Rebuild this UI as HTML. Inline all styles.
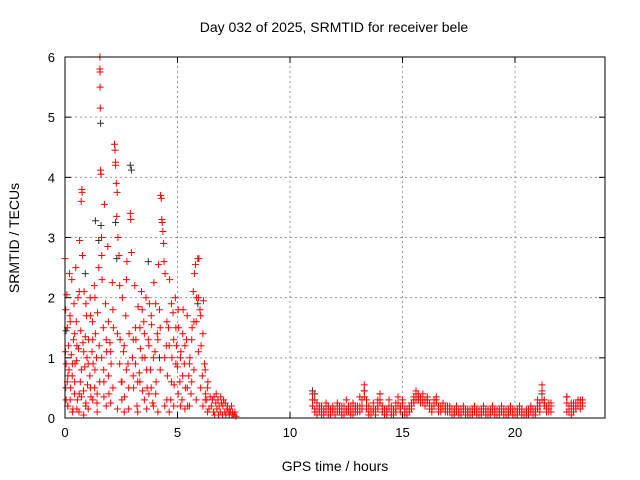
<!DOCTYPE html>
<html><head><meta charset="utf-8">
<style>
html,body{margin:0;padding:0;background:#fff;}
svg{display:block;font-family:"Liberation Sans",sans-serif;}
</style></head>
<body>
<svg id="chart" width="640" height="480" viewBox="0 0 640 480" xmlns="http://www.w3.org/2000/svg">
<rect x="0" y="0" width="640" height="480" fill="#fff"/>
<text x="334" y="32" font-size="14" text-anchor="middle" fill="#000">Day 032 of 2025, SRMTID for receiver bele</text>
<text x="335" y="471" font-size="14" text-anchor="middle" fill="#000">GPS time / hours</text>
<text x="19" y="238" font-size="14" text-anchor="middle" fill="#000" transform="rotate(-90 19 238)">SRMTID / TECUs</text>
<g id="grid"></g>
<g id="ticks"></g>
<g id="blackpts"></g>
<g id="redpts"></g>
<rect x="65" y="57" width="540" height="361" fill="none" stroke="#000" stroke-width="1"/>
</svg>
<script>
const xTicks=[0,5,10,15,20];
const yTicks=[0,1,2,3,4,5,6];
const redHoursA=[0.0,0.02,0.05,0.05,0.08,0.1,0.1,0.12,0.15,0.18,0.2,0.22,0.25,0.28,0.3,0.32,0.35,0.38,0.4,0.42,0.45,0.48,0.5,0.52,0.55,0.58,0.6,0.62,0.65,0.68,0.7,0.72,0.75,0.76,0.78,0.8,0.82,0.85,0.88,0.9,0.92,0.95,0.98,1.0];
const redValuesA=[2.65,1.1,0.9,0.3,2.05,1.5,0.6,0.2,1.2,0.8,2.4,1.7,0.5,1.05,2.3,0.7,0.15,1.3,1.9,0.4,0.9,2.5,1.6,0.95,0.3,2.0,1.15,0.1,2.95,0.6,1.45,3.6,3.8,3.75,2.7,1.25,0.45,2.1,0.85,1.35,0.2,1.7,1.0,0.55];
const redHoursB=[1.05,1.1,1.12,1.15,1.2,1.22,1.25,1.3,1.32,1.35,1.4,1.42,1.45,1.5,1.52,1.54,1.55,1.55,1.56,1.56,1.57,1.58,1.6,1.62,1.65,1.7,1.72,1.75,1.8,1.85,1.9,1.95,2.0];
const redValuesB=[1.3,0.7,2.0,0.35,1.1,1.6,0.9,2.2,0.5,1.4,1.0,0.25,1.75,2.5,1.2,0.6,6.0,5.8,5.75,5.5,5.15,4.12,4.05,3.0,2.3,1.5,0.8,3.55,1.9,1.1,2.85,0.4,1.25];
const redHoursC=[2.05,2.1,2.15,2.2,2.22,2.25,2.25,2.28,2.3,2.32,2.35,2.4,2.45,2.5,2.55,2.6,2.65,2.7,2.75,2.8,2.85,2.9,2.92,2.95,3.0,3.05,3.1,3.15,3.2,3.25,3.3,3.35,3.4,3.45,3.5];
const redValuesC=[0.9,2.25,1.5,4.55,4.45,4.25,4.2,3.9,3.35,3.75,3.0,2.7,1.3,0.6,2.0,1.1,0.35,1.7,2.6,0.9,1.4,3.4,3.3,2.75,1.0,0.5,2.2,1.3,0.2,1.85,0.75,1.15,2.1,0.45,1.6];
const redHoursD=[3.55,3.6,3.65,3.7,3.75,3.8,3.85,3.9,3.95,4.0,4.05,4.1,4.15,4.2,4.25,4.28,4.3,4.32,4.35,4.38,4.4,4.45,4.5,4.55,4.6,4.65,4.7,4.75,4.8,4.85,4.9,4.95,5.0];
const redValuesD=[1.0,2.0,0.5,1.3,1.9,0.8,1.55,0.25,2.25,1.1,0.6,1.4,2.55,1.8,3.7,3.65,3.3,3.25,3.1,2.9,2.6,2.4,1.2,0.7,1.5,2.3,0.3,1.0,1.75,0.55,2.0,1.2,0.85];
const redHoursE=[5.05,5.1,5.15,5.2,5.25,5.3,5.35,5.4,5.45,5.5,5.55,5.6,5.65,5.7,5.75,5.8,5.85,5.9,5.95,6.0,6.05,6.1,6.15,6.2,6.25,6.3,6.35,6.4,6.45,6.5];
const redValuesE=[1.5,0.6,1.1,0.3,1.8,0.9,0.5,1.3,0.2,0.7,1.0,0.4,1.5,2.1,2.4,2.55,2.0,2.65,2.65,1.8,1.2,0.7,1.95,0.9,0.4,0.3,0.6,0.15,0.35,0.2];
const redHoursF=[6.55,6.6,6.62,6.65,6.7,6.72,6.75,6.8,6.82,6.85,6.9,6.92,6.95,7.0,7.02,7.05,7.1,7.12,7.15,7.2,7.22,7.25,7.3,7.32,7.35,7.4,7.42,7.45,7.5,7.55,7.6];
const redValuesF=[0.3,0.1,0.35,0.05,0.25,0.4,0.15,0.3,0.05,0.2,0.1,0.35,0.25,0.05,0.2,0.3,0.1,0.25,0.05,0.15,0.2,0.1,0.05,0.15,0.1,0.2,0.05,0.1,0.05,0.1,0.03];
const redHoursG=[0.03,0.13,0.23,0.33,0.43,0.53,0.63,0.73,0.83,0.93,1.03,1.13,1.23,1.33,1.43,1.63,1.73,1.83,1.93,2.03,2.13,2.33,2.43,2.53,2.63,2.73,2.83,3.03,3.13,3.23,3.33,3.43,3.53,3.63,3.73,3.83,3.93,4.03,4.13,4.23,4.43,4.53,4.63,4.73,4.83,4.93,5.03,5.13,5.23,5.33,5.43,5.53,5.63,5.73,5.83,5.93,6.03,6.13,6.23,6.33];
const redValuesG=[0.5,0.7,0.3,0.9,0.6,1.2,0.4,0.8,1.1,0.25,0.9,0.5,1.3,0.8,0.4,1.0,0.6,1.3,0.7,1.1,0.5,1.4,0.9,0.3,1.2,0.8,0.5,1.3,0.9,0.6,1.5,1.0,0.3,0.8,1.2,0.5,1.0,0.4,1.3,0.8,1.0,0.3,1.2,0.6,1.3,0.9,0.4,1.0,0.7,1.2,0.5,0.9,1.3,0.8,1.6,1.1,0.5,1.4,0.3,0.5];
const redValuesH=[1.8,0.2,1.6,0.1,1.4,0.15,2.1,0.35,0.05,1.9,0.15,1.7,0.3,2.0,0.1,2.7,0.35,0.2,1.6,0.25,1.8,0.15,2.2,0.6,0.1,2.3,0.15,0.7,1.5,0.1,0.6,1.8,1.4,0.15,0.4,1.7,0.2,1.9,0.1,1.5,0.2,1.6,0.1,1.9,0.2,1.5,1.8,0.2,1.4,0.15,1.7,0.2,0.6,1.6,0.3,2.0,1.7,0.2,0.8,0.1];
const lateHours=[11.0,11.1,11.2,11.3,11.4,11.5,11.6,11.7,11.8,11.9,
12.0,12.1,12.2,12.3,12.4,12.5,12.6,12.7,12.8,12.9,
13.0,13.1,13.2,13.3,13.4,13.5,13.6,13.7,13.8,13.9,
14.0,14.1,14.2,14.3,14.4,14.5,14.6,14.7,14.8,14.9,
15.0,15.1,15.2,15.3,15.4,15.5,15.6,15.7,15.8,15.9,
16.0,16.1,16.2,16.3,16.4,16.5,16.6,16.7,16.8,16.9,
17.0,17.1,17.2,17.3,17.4,17.5,17.6,17.7,17.8,17.9,
18.0,18.1,18.2,18.3,18.4,18.5,18.6,18.7,18.8,18.9,
19.0,19.1,19.2,19.3,19.4,19.5,19.6,19.7,19.8,19.9,
20.0,20.1,20.2,20.3,20.4,20.5,20.6,20.7,20.8,20.9,
21.0,21.1,21.2,21.3,21.4,21.5,21.6,
22.3,22.4,22.5,22.6,22.7,22.8,22.9,23.0];
const lateValuesA=[0.4,0.3,0.15,0.1,0.2,0.1,0.25,0.15,0.1,0.2,
0.15,0.25,0.1,0.2,0.15,0.3,0.1,0.2,0.25,0.1,
0.2,0.35,0.15,0.55,0.3,0.2,0.1,0.25,0.15,0.3,
0.4,0.2,0.1,0.15,0.3,0.2,0.1,0.25,0.35,0.2,
0.3,0.15,0.1,0.2,0.25,0.35,0.45,0.4,0.35,0.4,
0.3,0.35,0.25,0.2,0.3,0.35,0.2,0.15,0.25,0.2,
0.15,0.2,0.1,0.15,0.2,0.1,0.15,0.2,0.1,0.15,
0.1,0.15,0.2,0.1,0.15,0.1,0.2,0.15,0.1,0.15,
0.2,0.1,0.15,0.1,0.2,0.15,0.1,0.15,0.2,0.1,
0.15,0.1,0.2,0.1,0.05,0.15,0.1,0.2,0.1,0.15,
0.3,0.2,0.55,0.3,0.15,0.25,0.2,
0.35,0.2,0.15,0.25,0.2,0.3,0.25,0.3];
const lateValuesB=[0.2,0.15,0.05,0.2,0.1,0.05,0.15,0.05,0.15,0.1,
0.05,0.1,0.2,0.1,0.05,0.15,0.2,0.1,0.05,0.15,
0.1,0.2,0.3,0.35,0.15,0.05,0.15,0.1,0.05,0.15,
0.25,0.1,0.05,0.1,0.15,0.05,0.15,0.1,0.2,0.1,
0.2,0.05,0.15,0.1,0.15,0.25,0.3,0.3,0.25,0.25,
0.2,0.25,0.15,0.1,0.2,0.25,0.1,0.1,0.15,0.1,
0.1,0.1,0.05,0.1,0.15,0.05,0.1,0.1,0.05,0.1,
0.05,0.1,0.1,0.05,0.1,0.05,0.1,0.1,0.05,0.1,
0.1,0.05,0.1,0.05,0.1,0.1,0.05,0.1,0.1,0.05,
0.1,0.05,0.1,0.05,0.1,0.1,0.05,0.1,0.05,0.1,
0.15,0.1,0.3,0.2,0.1,0.15,0.1,
0.1,0.15,0.05,0.1,0.15,0.2,0.15,0.2];
const lateValuesC=[0.3,0.1,0.25,0.15,0.05,0.15,0.1,0.2,0.05,0.15,
0.1,0.2,0.15,0.05,0.2,0.1,0.15,0.05,0.15,0.2,
0.15,0.1,0.2,0.45,0.2,0.1,0.05,0.15,0.1,0.2,
0.3,0.15,0.15,0.05,0.2,0.1,0.05,0.15,0.25,0.15,
0.25,0.1,0.05,0.15,0.2,0.3,0.4,0.35,0.3,0.3,
0.25,0.3,0.2,0.15,0.25,0.3,0.15,0.2,0.2,0.15,
0.2,0.15,0.15,0.05,0.1,0.15,0.05,0.15,0.15,0.05,
0.15,0.05,0.15,0.15,0.05,0.15,0.15,0.05,0.15,0.05,
0.15,0.15,0.05,0.15,0.15,0.05,0.15,0.05,0.15,0.15,
0.05,0.15,0.15,0.15,0.1,0.05,0.15,0.15,0.15,0.05,
0.2,0.25,0.45,0.25,0.2,0.1,0.25,
0.25,0.1,0.25,0.15,0.25,0.2,0.3,0.25];
const blackHours=[0.05,0.9,1.35,1.5,1.58,1.6,2.25,2.3,2.9,2.95,3.7,4.2,5.9,11.0,11.1,13.3,14.0,21.2,22.3];
const blackValues=[1.45,2.4,3.28,2.95,4.9,3.2,3.25,2.65,4.2,4.12,2.6,1.0,1.9,0.45,0.4,0.45,0.4,0.4,0.35];

const X0=65,X1=605,Y0=418,Y1=57,XMAX=24,YMAX=6;
function xs(h){return X0+(X1-X0)*h/XMAX;}
function ys(v){return Y0-(Y0-Y1)*v/YMAX;}
const NS="http://www.w3.org/2000/svg";
const grid=document.getElementById('grid'),ticks=document.getElementById('ticks');
function mk(tag,attrs,parent){const e=document.createElementNS(NS,tag);for(const k in attrs)e.setAttribute(k,attrs[k]);parent.appendChild(e);return e;}
xTicks.forEach(t=>{
  const x=xs(t);
  if(t>0){const g=mk('line',{x1:x,y1:Y0,x2:x,y2:Y1,stroke:'#999','stroke-dasharray':'2,3'},grid);
  
  }
  mk('line',{x1:x,y1:Y0,x2:x,y2:Y0-6,stroke:'#000'},ticks);
  mk('line',{x1:x,y1:Y1,x2:x,y2:Y1+6,stroke:'#000'},ticks);
  const tx=mk('text',{x:x,y:Y0+19,'font-size':13,'text-anchor':'middle'},ticks);
  tx.textContent=t;
  
  
});
yTicks.forEach(t=>{
  const y=ys(t);
  if(t>0&&t<YMAX){const g=mk('line',{x1:X0,y1:y,x2:X1,y2:y,stroke:'#999','stroke-dasharray':'2,3'},grid);
  
  }
  mk('line',{x1:X0,y1:y,x2:X0+6,y2:y,stroke:'#000'},ticks);
  mk('line',{x1:X1,y1:y,x2:X1-6,y2:y,stroke:'#000'},ticks);
  const tx=mk('text',{x:X0-10,y:y+5,'font-size':13,'text-anchor':'end'},ticks);
  tx.textContent=t;
  
  
});
function plus(hours,vals,color,parent){
  let d='';
  const n=Math.min(hours.length,vals.length);
  for(let i=0;i<n;i++){const x=xs(hours[i]),y=ys(vals[i]);
    d+=`M${(x-3.5).toFixed(1)} ${y.toFixed(1)}h7M${x.toFixed(1)} ${(y-3.5).toFixed(1)}v7`;}
  const p=mk('path',{d:d,stroke:color,'stroke-width':1,fill:'none'},parent);
  
  
}
const bg=document.getElementById('blackpts'),rg=document.getElementById('redpts');
plus(blackHours,blackValues,'#333',bg);
plus(redHoursA,redValuesA,'#f00',rg);
plus(redHoursB,redValuesB,'#f00',rg);
plus(redHoursC,redValuesC,'#f00',rg);
plus(redHoursD,redValuesD,'#f00',rg);
plus(redHoursE,redValuesE,'#f00',rg);
plus(redHoursF,redValuesF,'#f00',rg);
plus(redHoursG,redValuesG,'#f00',rg);
plus(redHoursG,redValuesH,'#f00',rg);
plus(lateHours,lateValuesA,'#f00',rg);
plus(lateHours,lateValuesB,'#f00',rg);
plus(lateHours,lateValuesC,'#f00',rg);
</script>
</body></html>
